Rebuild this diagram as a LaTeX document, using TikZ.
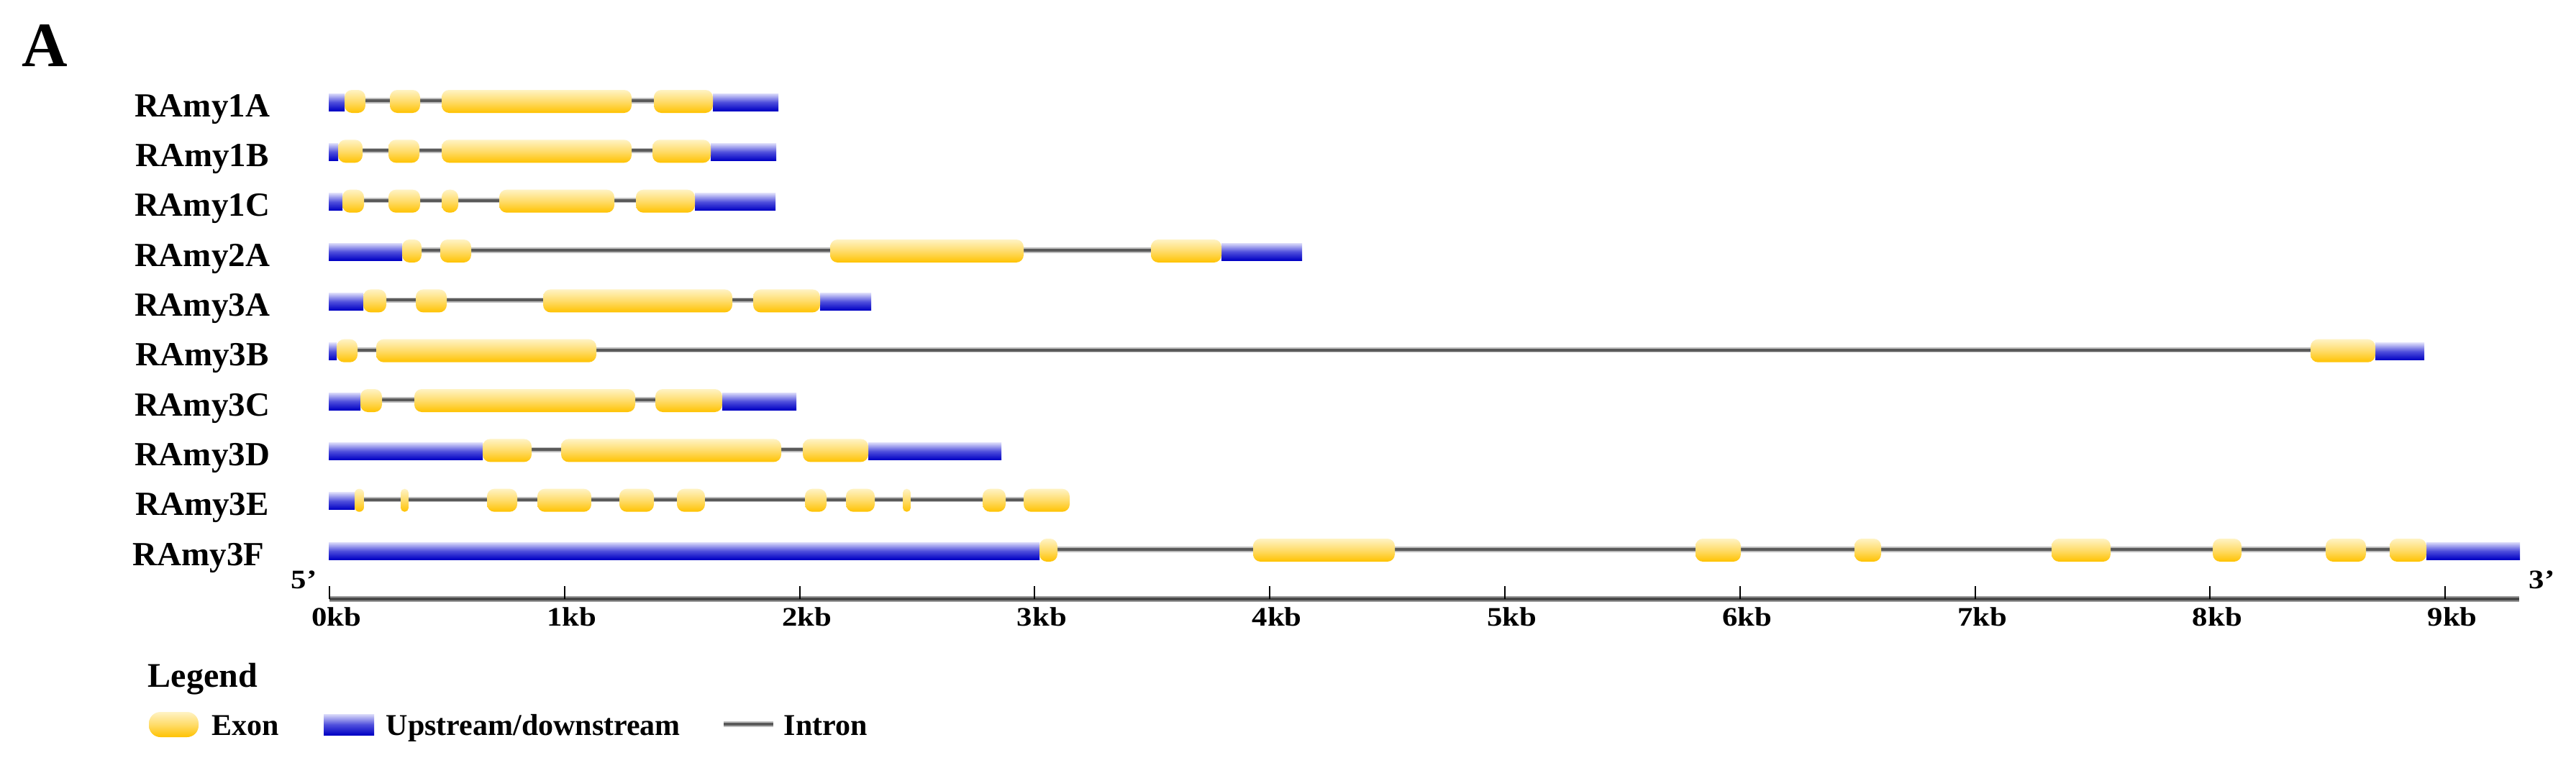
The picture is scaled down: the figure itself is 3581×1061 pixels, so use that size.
\documentclass[tikz,border=0pt]{standalone}
\usepackage{fontspec}
\setmainfont{Liberation Serif}
\definecolor{exTop}{HTML}{FFF3C4}
\definecolor{exMid}{HTML}{FFDC6A}
\definecolor{exBot}{HTML}{FFC200}
\definecolor{blTop}{HTML}{DCDCFA}
\definecolor{blMid}{HTML}{5050DC}
\definecolor{blBot}{HTML}{0000C4}
\definecolor{inDark}{HTML}{5A5A5A}
\definecolor{inLight}{HTML}{BEBEBE}
\tikzset{
  utr/.style={top color=blTop,bottom color=blBot,middle color=blMid,draw=none},
  exonsh/.style={top color=exTop,bottom color=exBot,middle color=exMid,draw=none},
  intronout/.style={draw=inLight,line width=1.8pt},
  intronin/.style={draw=inDark,line width=1pt},
  axisout/.style={draw=inLight!80!black,line width=2pt},
  axisin/.style={draw=inDark!80!black,line width=1pt},
  tickmark/.style={draw=black,line width=0.5pt},
  genelab/.style={font=\fontsize{11.75}{12}\bfseries\selectfont,anchor=base,inner sep=0pt},
  ticklab/.style={font=\fontsize{9.3}{10}\bfseries\selectfont,anchor=base,inner sep=0pt},
  legtext/.style={font=\fontsize{10.5}{11}\bfseries\selectfont,anchor=base west,inner sep=0pt}
}
\newcommand\generow[5]{%
  \draw[intronout] ({#2},{#1}) -- ({#3},{#1});
  \draw[intronin] ({#2},{#1}) -- ({#3},{#1});
  \foreach \a/\b in {#4} {\shade[utr] ({\a},{#1-10}) rectangle ({\b},{#1+14});}
  \foreach \a/\b in {#5} {\pgfmathsetmacro\rr{min(2.6,(\b-\a)*0.125)}%
    \shade[exonsh,rounded corners=\rr pt] ({\a},{#1-15}) rectangle ({\b},{#1+17});}
}
\begin{document}
\begin{tikzpicture}[x=0.25pt,y=-0.25pt]
\useasboundingbox[fill=white] (0,0) rectangle (3581,1061);

\node[font=\fontsize{22}{24}\bfseries\selectfont,anchor=base west,inner sep=0pt] (panel) at (30,92) {A};

% gene rows
\generow{140}{479}{991}{457/479,991/1082}{479/508,542/584,614/878,909/991}
\generow{209.3}{470}{988}{457/470,988/1079}{470/504,540/583,614/878,907/988}
\generow{278.7}{476}{966}{457/476,966/1078}{476/506,540/584,614/637,694/854,884/966}
\generow{348}{559}{1698}{457/559,1698/1810}{559/586,612/655,1154/1423,1600/1698}
\generow{417.4}{505}{1140}{457/505,1140/1211}{505/537,578/621,755/1018,1047/1140}
\generow{486.7}{468}{3302}{457/468,3302/3370}{468/497,523/829,3212/3302}
\generow{556}{501}{1004}{457/501,1004/1107}{501/531,576/883,911/1004}
\generow{625.4}{671}{1207}{457/671,1207/1392}{671/739,780/1086,1116/1207}
\generow{694.7}{493}{1487}{457/493}{493/506,557/568,677/719,747/822,861/909,941/980,1119/1149,1176/1216,1255/1266,1366/1398,1423/1487}
\generow{764}{1445}{3373}{457/1445,3373/3503}{1445/1470,1742/1939,2357/2420,2578/2615,2852/2934,3076/3116,3233/3289,3322/3373}

% labels
\node[genelab] (g1) at (281,162) {RAmy1A};
\node[genelab] (g2) at (281,231.3) {RAmy1B};
\node[genelab] (g3) at (281,300.7) {RAmy1C};
\node[genelab] (g4) at (281,370) {RAmy2A};
\node[genelab] (g5) at (281,439.4) {RAmy3A};
\node[genelab] (g6) at (281,508.7) {RAmy3B};
\node[genelab] (g7) at (281,578) {RAmy3C};
\node[genelab] (g8) at (281,647.4) {RAmy3D};
\node[genelab] (g9) at (281,716.7) {RAmy3E};
\node[genelab] (g10) at (276,786) {RAmy3F};

% axis
\draw[axisout] (458,833) -- (3502,833);
\draw[axisin] (458,833) -- (3502,833);
\foreach \k in {0,...,9} {
  \draw[tickmark] ({458+326.8*\k},815) -- ({458+326.8*\k},833);
  \node[ticklab] (t\k) at ({468+326.8*\k},870) {\scalebox{1.15}[1]{\k kb}};
}
\node[ticklab,anchor=base west] (five) at (404,818) {\scalebox{1.15}[1]{5’}};
\node[ticklab,anchor=base west] (three) at (3515,818) {\scalebox{1.15}[1]{3’}};

% legend
\node[legtext,font=\fontsize{12}{13}\bfseries\selectfont] (leg) at (205,955) {Legend};
\shade[exonsh,rounded corners=4pt] (207,990) rectangle (276,1025);
\node[legtext] (lex) at (294,1022) {Exon};
\shade[utr] (450,993) rectangle (520,1022);
\node[legtext] (lut) at (536,1022) {Upstream/downstream};
\draw[intronout,line width=2.2pt] (1006,1007) -- (1075,1007);
\draw[intronin,line width=1.2pt] (1006,1007) -- (1075,1007);
\node[legtext] (lin) at (1089,1022) {Intron};
\end{tikzpicture}
\end{document}
